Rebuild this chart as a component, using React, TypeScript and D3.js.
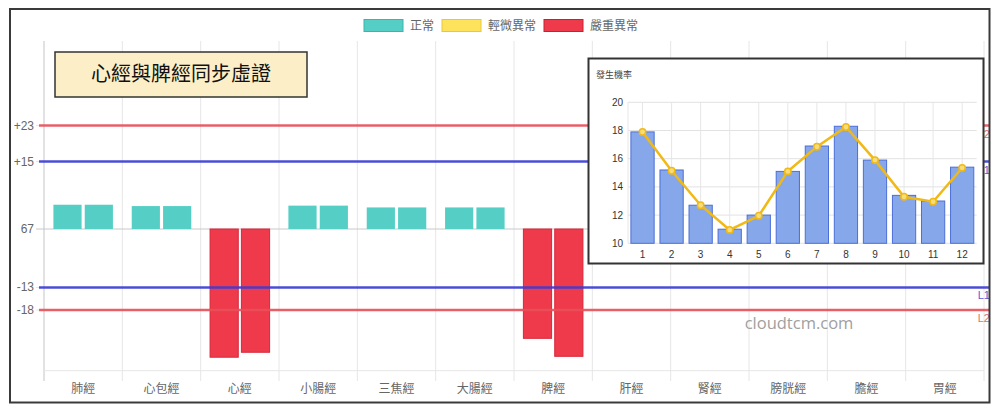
import React from 'react';
import * as d3 from 'd3';

// main chart data: two bars (left / right) for each meridian
const categories = ['肺經', '心包經', '心經', '小腸經', '三焦經', '大腸經', '脾經', '肝經', '腎經', '膀胱經', '膽經', '胃經'];
const leftValues = [5.4, 5.1, -28.5, 5.2, 4.8, 4.8, -24.3, 5.0, 5.0, 5.0, 5.0, 5.0];
const rightValues = [5.4, 5.1, -27.4, 5.2, 4.8, 4.8, -28.3, 5.0, 5.0, 5.0, 5.0, 5.0];

const tickValues = [23, 15, 0, -13, -18];
const tickLabels = ['+23', '+15', '67', '-13', '-18'];

const limitValues = [23, 15, -13, -18];
const limitNames = ['L2', 'L1', 'L1', 'L2'];

const legendNames = ['正常', '輕微異常', '嚴重異常'];

// inset chart data
const months = ['1', '2', '3', '4', '5', '6', '7', '8', '9', '10', '11', '12'];
const monthBars = [17.9, 15.2, 12.7, 11.0, 12.0, 15.1, 16.9, 18.3, 15.9, 13.4, 13.0, 15.4];
const monthLine = [17.9, 15.15, 12.7, 10.95, 11.95, 15.1, 16.85, 18.25, 15.9, 13.3, 12.95, 15.35];
const insetTicks = [10, 12, 14, 16, 18, 20];

const FONT = "'Liberation Sans', 'Noto Sans CJK TC', sans-serif";
const TEAL = '#55cfc6';
const RED = '#ef3a4b';
const YELLOW = '#fde35c';
const LINE_COLORS: Record<string, string> = { L1: '#3b3bd6', L2: '#e9505a' };

export default function App() {
  const W = 1000;
  const H = 414;

  // main scales
  const x = d3.scaleBand<string>().domain(categories).range([44, 984]);
  const sub = d3.scaleBand<string>().domain(['L', 'R'])
    .range([x.bandwidth() * 0.1, x.bandwidth() * 0.9])
    .paddingInner(0.1).paddingOuter(0.05);
  const y = d3.scaleLinear().domain([-31.5, 41.8]).range([370.7, 41]);
  const plotTop = 41;
  const plotBottom = 370.7;

  // inset scales
  const ix = d3.scaleBand<string>().domain(months).range([628, 976.7]).paddingInner(0.2).paddingOuter(0.1);
  const iy = d3.scaleLinear().domain([10, 20]).range([243.3, 102.3]);
  const line = d3.line<number>()
    .x((_, i) => (ix(months[i]) as number) + ix.bandwidth() / 2)
    .y(d => iy(d));
  const ixStep = ix.step();

  const barColor = (v: number) => (v < 0 ? RED : TEAL);

  const legendX = [364, 442, 544];
  const legendColors = [TEAL, YELLOW, RED];
  const legendStroke = ['#3fb3ab', '#e9c83c', '#c42233'];

  return (
    <div style={{ position: 'absolute', left: 0, top: 0 }}>
      <svg width={W} height={H} style={{ display: 'block', background: '#fff' }} fontFamily={FONT}>
        {/* legend */}
        {legendNames.map((n, i) => (
          <g key={n}>
            <rect x={legendX[i]} y={19.5} width={39} height={12} fill={legendColors[i]} stroke={legendStroke[i]} strokeWidth={1} />
            <text x={legendX[i] + 46} y={29.5} fontSize={12} fill="#666">{n}</text>
          </g>
        ))}

        {/* vertical grid at category boundaries */}
        {categories.map((c, i) => (
          <line key={c} x1={(x(c) as number) + (i === 0 ? 0 : 0)} x2={x(c) as number} y1={plotTop} y2={381}
            stroke={i === 0 ? '#c4c4c4' : '#e6e6e6'} strokeWidth={1} />
        ))}
        <line x1={984} x2={984} y1={plotTop} y2={381} stroke="#e6e6e6" />
        {/* x axis line */}
        <line x1={44} x2={984} y1={plotBottom} y2={plotBottom} stroke="#e6e6e6" />

        {/* y ticks */}
        {tickValues.map((v, i) => (
          <g key={v}>
            <line x1={36} x2={984} y1={y(v)} y2={y(v)} stroke={v === 0 ? '#c8c8c8' : '#e6e6e6'} />
            <text x={34} y={y(v) + 4} fontSize={12} fill="#666" textAnchor="end">{tickLabels[i]}</text>
          </g>
        ))}

        {/* bars */}
        {categories.map((c, i) => {
          const bx = x(c) as number;
          return [leftValues[i], rightValues[i]].map((v, j) => {
            const sx = bx + (sub(j === 0 ? 'L' : 'R') as number);
            const y0 = y(0);
            const y1 = y(v);
            return (
              <rect key={c + j} x={sx} width={sub.bandwidth()} y={Math.min(y0, y1)} height={Math.abs(y1 - y0)}
                fill={barColor(v)} stroke={v < 0 ? '#d8283a' : 'none'} strokeWidth={1} />
            );
          });
        })}

        {/* limit lines */}
        {limitValues.map((v, i) => (
          <g key={v}>
            <line x1={39} x2={990} y1={y(v)} y2={y(v)} stroke={LINE_COLORS[limitNames[i]]} strokeWidth={2.5} opacity={0.9} />
            <text x={990} y={y(v) + 12} fontSize={11} fill={LINE_COLORS[limitNames[i]]} textAnchor="end" opacity={0.85}>{limitNames[i]}</text>
          </g>
        ))}

        {/* x labels */}
        {categories.map(c => (
          <text key={c} x={(x(c) as number) + x.bandwidth() / 2} y={393} fontSize={12} fill="#666" textAnchor="middle">{c}</text>
        ))}

        {/* watermark */}
        <text x={799} y={329} fontSize={16.5} fill="#a0a0a0" textAnchor="middle" fontFamily="'Open Sans', sans-serif">cloudtcm.com</text>

        {/* title box */}
        <rect x={55} y={52} width={252} height={45} fill="#fcefc8" stroke="#333" strokeWidth={1.5} />
        <text x={181} y={81} fontSize={20} fill="#111" textAnchor="middle" fontFamily="'Noto Sans CJK TC', sans-serif">心經與脾經同步虛證</text>

        {/* inset chart */}
        <g>
          <rect x={588.5} y={58.5} width={395} height={205} fill="#fff" stroke="#333" strokeWidth={2} />
          <text x={596} y={78} fontSize={9} fill="#444" fontFamily="'Noto Sans CJK TC', sans-serif">發生機率</text>
          {insetTicks.map(t => (
            <g key={t}>
              <line x1={628} x2={976.7} y1={iy(t)} y2={iy(t)} stroke="#e2e2e2" />
              <text x={623} y={iy(t) + 3.5} fontSize={10} fill="#333" textAnchor="end">{t}</text>
            </g>
          ))}
          {months.map(m => (
            <line key={m} x1={(ix(m) as number) + ix.bandwidth() / 2} x2={(ix(m) as number) + ix.bandwidth() / 2}
              y1={iy(20)} y2={iy(10)} stroke="#e6e6e6" />
          ))}
          <line x1={628} x2={628} y1={iy(20)} y2={iy(10)} stroke="#e6e6e6" />
          {months.map((m, i) => (
            <rect key={m} x={ix(m) as number} width={ix.bandwidth()} y={iy(monthBars[i])} height={iy(10) - iy(monthBars[i])}
              fill="#86a7ea" stroke="#4b6fd6" strokeWidth={1} />
          ))}
          <path d={line(monthLine) || ''} fill="none" stroke="#f0b915" strokeWidth={2.5} />
          {monthLine.map((v, i) => (
            <circle key={i} cx={(ix(months[i]) as number) + ix.bandwidth() / 2} cy={iy(v)} r={3.2}
              fill="#f7dc7a" stroke="#f0b915" strokeWidth={1.5} />
          ))}
          {months.map(m => (
            <text key={m} x={(ix(m) as number) + ix.bandwidth() / 2} y={258} fontSize={10} fill="#333" textAnchor="middle">{m}</text>
          ))}
          {/* keep step referenced for layout sanity */}
          <g data-step={ixStep} />
        </g>

        {/* outer frame */}
        <rect x={10} y={9} width={979.5} height={393.5} fill="none" stroke="#3a3a3a" strokeWidth={2} />
      </svg>
    </div>
  );
}
